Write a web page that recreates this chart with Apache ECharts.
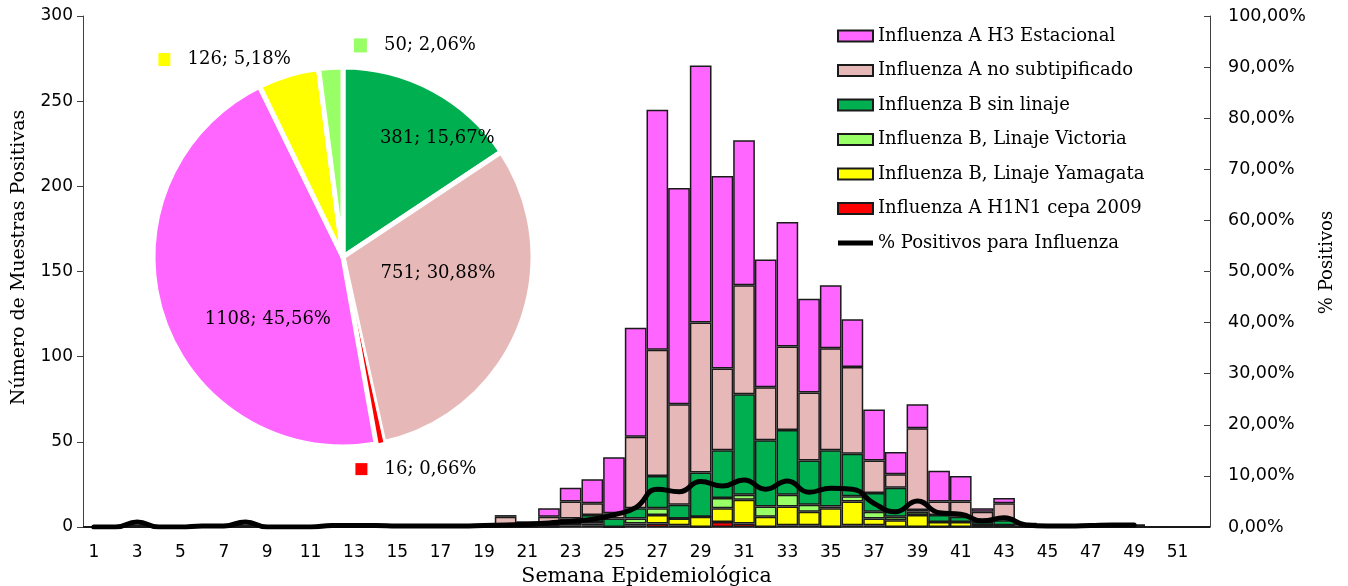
<!DOCTYPE html>
<html>
<head>
<meta charset="utf-8">
<script src="https://cdn.jsdelivr.net/npm/echarts@6/dist/echarts.min.js"></script>
<style>
html,body{margin:0;padding:0;background:#fff}
#chart{width:1348px;height:586px}
</style>
</head>
<body>
<div id="chart"></div>
<script>
// semanas epidemiologicas 1..52
var weeks = ['1','2','3','4','5','6','7','8','9','10','11','12','13','14','15','16','17','18','19','20',
  '21','22','23','24','25','26','27','28','29','30','31','32','33','34','35','36','37','38','39','40',
  '41','42','43','44','45','46','47','48','49','50','51','52'];

//                 1 .............................................. 19 | 20 ...
var h1n1     = [0,0,0,0,0,0,0,0,0,0,0,0,0,0,0,0,0,0,0,  0,0,0,1,1,0,1,2,1,0,3,2,0,1,1,0,1,1,0,0,0,0,0,0,0,0,0,0,0,0,0,0,0];
var yamagata = [0,0,0,0,0,0,0,0,0,0,0,0,0,0,0,0,0,0,0,  0,0,1,1,1,0,1,5,4,6,8,14,6,11,8,11,14,4,4,7,3,3,1,1,0,0,0,0,0,0,0,0,0];
var victoria = [0,0,0,0,0,0,0,0,0,0,0,0,0,0,0,0,0,0,0,  0,0,0,0,1,0,3,4,0,0,6,3,6,7,4,1,3,4,2,2,0,0,0,0,0,0,0,0,0,0,0,0,0];
var bSinLin  = [0,0,0,0,0,0,0,0,0,0,0,0,0,0,0,0,0,0,0,  0,1,1,3,4,5,6,19,8,26,28,59,39,38,26,33,25,11,17,1,4,3,2,3,1,0,0,0,0,1,0,0,0];
var aNoSub   = [0,0,1,0,0,0,0,1,0,0,0,0,0,0,0,0,0,0,0,  6,2,4,10,7,3,42,74,59,88,48,64,31,49,40,60,51,19,8,48,8,9,6,10,1,0,0,0,0,0,0,0,0];
var h3       = [0,0,0,0,0,0,0,0,0,0,0,0,0,0,0,0,0,0,0,  1,0,5,8,14,33,64,141,127,151,113,85,75,73,55,37,28,30,13,14,18,15,2,3,0,0,0,0,0,0,0,0,0];
var pctPos   = [0,0,1.0,0,0,0.2,0.2,1.0,0,0,0,0.3,0.3,0.3,0.2,0.2,0.2,0.2,0.3,
  0.4,0.5,0.8,1.1,1.5,2.4,3.8,7.4,6.9,8.9,8.0,9.2,7.4,9.0,6.8,7.6,7.4,4.6,3.0,5.1,2.8,2.5,1.2,1.8,0.4,0.2,0.2,0.3,0.4,0.4,null,null,null];

// totales del periodo (torta)
var pieNames  = ['Influenza B sin linaje','Influenza A no subtipificado','Influenza A H1N1 cepa 2009',
  'Influenza A H3 Estacional','Influenza B, Linaje Yamagata','Influenza B, Linaje Victoria'];
var pieValues = [381, 751, 16, 1108, 126, 50];

var names = {
  h3: 'Influenza A H3 Estacional',
  nosub: 'Influenza A no subtipificado',
  bsin: 'Influenza B sin linaje',
  vic: 'Influenza B, Linaje Victoria',
  yam: 'Influenza B, Linaje Yamagata',
  h1: 'Influenza A H1N1 cepa 2009',
  pct: '% Positivos para Influenza'
};
var colors = {};
colors[names.h3] = '#FF66FF';
colors[names.nosub] = '#E6B9B8';
colors[names.bsin] = '#00B050';
colors[names.vic] = '#99FF66';
colors[names.yam] = '#FFFF00';
colors[names.h1] = '#FF0000';

var serif = 'DejaVu Serif';
var sans = 'DejaVu Sans';

function barSeries(name, data) {
  return {
    name: name, type: 'bar', stack: 'w', data: data,
    barCategoryGap: '0%',
    itemStyle: {color: colors[name], borderColor: '#1a1a1a', borderWidth: 1.5}
  };
}

var smallKeys = {};
smallKeys[names.yam] = 'y';
smallKeys[names.vic] = 'g';
smallKeys[names.h1] = 'r';

var pieTotal = pieValues.reduce(function (a, b) { return a + b; }, 0);
var pieData = pieNames.map(function (n, i) {
  var d = {name: n, value: pieValues[i], itemStyle: {color: colors[n]}};
  if (smallKeys[n]) d.label = {position: 'outside'};
  if (n === names.h1) d.itemStyle.borderWidth = 1;
  return d;
});

var labelNudge = [[48, -32], [4, -20], [-32, 14], [18, 32], [11, -4], [151, -10]];

var chart = echarts.init(document.getElementById('chart'));
chart.setOption({
  animation: false,
  grid: {left: 83, right: 138, top: 16, bottom: 59, outerBoundsMode: 'none'},
  legend: {
    orient: 'vertical', left: 832, top: 21,
    itemWidth: 35, itemHeight: 11, itemGap: 14.5,
    icon: 'rect',
    textStyle: {fontFamily: serif, fontSize: 18, color: '#000', lineHeight: 20},
    data: [names.h3, names.nosub, names.bsin, names.vic, names.yam, names.h1,
      {name: names.pct, icon: 'path://M0,0 L36,0 L36,5 L0,5 Z', itemStyle: {color: '#000', borderWidth: 0}}]
  },
  xAxis: {
    type: 'category', data: weeks,
    name: 'Semana Epidemiológica', nameLocation: 'middle', nameGap: 38,
    nameTextStyle: {fontFamily: serif, fontSize: 20.5, color: '#000'},
    axisLine: {lineStyle: {color: '#404040', width: 1}},
    axisTick: {interval: 0, length: 6, lineStyle: {color: '#404040'}},
    axisLabel: {interval: 1, fontFamily: sans, fontSize: 17, color: '#000', margin: 17}
  },
  yAxis: [{
    type: 'value', min: 0, max: 300, interval: 50,
    name: 'Número de Muestras Positivas', nameLocation: 'middle', nameGap: 54,
    nameTextStyle: {fontFamily: serif, fontSize: 19, color: '#000', padding: [0, 0, 0, 28]},
    axisLine: {show: true, lineStyle: {color: '#404040'}},
    axisTick: {show: true, length: 6, lineStyle: {color: '#404040'}},
    splitLine: {show: false},
    axisLabel: {fontFamily: sans, fontSize: 17, color: '#000', margin: 10}
  }, {
    type: 'value', min: 0, max: 100, interval: 10, position: 'right',
    name: '% Positivos', nameLocation: 'middle', nameGap: 108,
    nameTextStyle: {fontFamily: serif, fontSize: 18, color: '#000', padding: [0, 0, 0, 18]},
    axisLine: {show: true, lineStyle: {color: '#404040'}},
    axisTick: {show: true, length: 6, inside: true, lineStyle: {color: '#404040'}},
    splitLine: {show: false},
    axisLabel: {fontFamily: sans, fontSize: 17.5, color: '#000', margin: 18,
      formatter: function (v) { return v.toFixed(2).replace('.', ',') + '%'; }}
  }],
  series: [
    barSeries(names.h1, h1n1),
    barSeries(names.yam, yamagata),
    barSeries(names.vic, victoria),
    barSeries(names.bsin, bSinLin),
    barSeries(names.nosub, aNoSub),
    barSeries(names.h3, h3),
    {
      name: names.pct, type: 'line', yAxisIndex: 1, data: pctPos,
      smooth: true, symbol: 'none', z: 5,
      lineStyle: {color: '#000', width: 5, cap: 'round'},
      itemStyle: {color: '#000'}
    },
    {
      type: 'pie', center: [343, 257], radius: 190,
      startAngle: 90, clockwise: true, avoidLabelOverlap: false,
      itemStyle: {borderColor: '#fff', borderWidth: 5},
      labelLine: {show: false, length: 12, length2: 0},
      label: {
        position: 'inside', color: '#000', fontFamily: serif, fontSize: 18,
        formatter: function (p) {
          var pct = (p.value / pieTotal * 100).toFixed(2).replace('.', ',');
          var t = p.value + '; ' + pct + '%';
          var k = smallKeys[p.name];
          return k ? '{' + k + '|}   {t|' + t + '}' : t;
        },
        rich: {
          y: {width: 12, height: 13, backgroundColor: '#FFFF00'},
          g: {width: 13, height: 14, backgroundColor: '#99FF66'},
          r: {width: 12, height: 12, backgroundColor: '#FF0000'},
          t: {fontFamily: serif, fontSize: 18, color: '#000'}
        }
      },
      labelLayout: function (params) {
        var n = labelNudge[params.dataIndex];
        return {dx: n[0], dy: n[1]};
      },
      data: pieData
    }
  ]
});
</script>
</body>
</html>
